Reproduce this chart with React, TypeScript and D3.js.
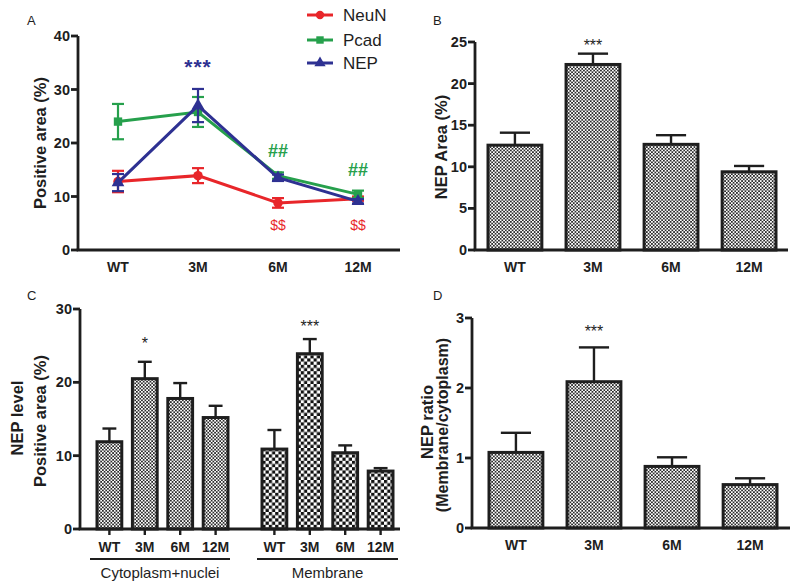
import React from 'react';
import * as d3 from 'd3';

const categories = ['WT', '3M', '6M', '12M'];

// Panel A: positive area (%) for each marker (mean, sem)
const neunMean = [12.8, 13.9, 8.8, 9.6];
const neunSem = [2.0, 1.4, 0.9, 0.4];
const pcadMean = [24.0, 25.8, 13.9, 10.4];
const pcadSem = [3.3, 2.8, 0.6, 0.7];
const nepMean = [12.6, 27.0, 13.5, 9.1];
const nepSem = [1.6, 3.1, 0.6, 0.4];
const aTicks = [0, 10, 20, 30, 40];
const nepSig = ['', '***', '', ''];
const pcadSig = ['', '', '##', '##'];
const neunSig = ['', '', '$$', '$$'];

// Panel B: NEP area (%)
const nepArea = [12.6, 22.3, 12.7, 9.4];
const nepAreaSem = [1.5, 1.3, 1.1, 0.7];
const bTicks = [0, 5, 10, 15, 20, 25];
const bSig = ['', '***', '', ''];

// Panel C: NEP level by compartment
const cytoLevel = [11.9, 20.5, 17.8, 15.2];
const cytoSem = [1.8, 2.3, 2.1, 1.6];
const membLevel = [10.9, 23.9, 10.4, 7.9];
const membSem = [2.6, 2.0, 1.0, 0.4];
const cTicks = [0, 10, 20, 30];
const cytoSig = ['', '*', '', ''];
const membSig = ['', '***', '', ''];
const groupNames = ['Cytoplasm+nuclei', 'Membrane'];

// Panel D: membrane / cytoplasm ratio
const nepRatio = [1.08, 2.09, 0.88, 0.62];
const nepRatioSem = [0.28, 0.49, 0.13, 0.09];
const dTicks = [0, 1, 2, 3];
const dSig = ['', '***', '', ''];

const FONT = '"Liberation Sans", Arial, Helvetica, sans-serif';
const INK = '#1e1e1e';
const RED = '#e8262a';
const GREEN = '#26a04c';
const BLUE = '#2e3192';

type Lin = d3.ScaleLinear<number, number>;

// y axis with outward ticks plus the x baseline
const Axes = ({ x0, xEnd, y, ticks }: { x0: number; xEnd: number; y: Lin; ticks: number[] }) => {
  const top = y(ticks[ticks.length - 1]);
  const bottom = y(0);
  return (
    <g stroke={INK} strokeWidth={2.8} fill="none">
      <line x1={x0} x2={x0} y1={top} y2={bottom} />
      <line x1={x0 - 1.4} x2={xEnd} y1={bottom} y2={bottom} />
      {ticks.map(t => (
        <g key={t}>
          <line x1={x0 - 7} x2={x0} y1={y(t)} y2={y(t)} />
          <text x={x0 - 8} y={y(t) + 5} textAnchor="end" stroke="none" fill={INK}
            fontSize={14.5} fontWeight="bold" fontFamily={FONT}>{t}</text>
        </g>
      ))}
    </g>
  );
};

const Bars = ({ x, y, means, sems, fill, sigs, sigLift }: {
  x: d3.ScaleBand<string>; y: Lin; means: number[]; sems: number[]; fill: string;
  sigs: string[]; sigLift: number[];
}) => {
  const bw = x.bandwidth();
  const cap = bw * 0.56;
  return (
    <g>
      {categories.map((c, i) => {
        const cx = x(c)! + bw / 2;
        const top = y(means[i]);
        const err = y(means[i] + sems[i]);
        return (
          <g key={c}>
            <line x1={cx} x2={cx} y1={top} y2={err} stroke={INK} strokeWidth={2.4} />
            <line x1={cx - cap / 2} x2={cx + cap / 2} y1={err} y2={err} stroke={INK} strokeWidth={2.4} />
            <rect x={x(c)!} y={top} width={bw} height={y(0) - top} fill={fill} stroke={INK} strokeWidth={3} />
            {sigs[i] && (
              <text x={cx} y={err - sigLift[i]} textAnchor="middle" fontSize={16} fill={INK}
                fontFamily={FONT}>{sigs[i]}</text>
            )}
          </g>
        );
      })}
    </g>
  );
};

const XLabels = ({ x, yPos }: { x: d3.ScaleBand<string>; yPos: number }) => (
  <g>
    {categories.map(c => (
      <text key={c} x={x(c)! + x.bandwidth() / 2} y={yPos} textAnchor="middle" fontSize={14}
        fontWeight="bold" fill={INK} fontFamily={FONT}>{c}</text>
    ))}
  </g>
);

const PanelLetter = ({ x, y, t }: { x: number; y: number; t: string }) => (
  <text x={x} y={y} fontSize={13} fill={INK} fontFamily={FONT}>{t}</text>
);

const YTitle = ({ x, y, text, size = 16.5 }: { x: number; y: number; text: string; size?: number }) => (
  <text transform={`translate(${x},${y}) rotate(-90)`} textAnchor="middle" fontSize={size}
    fontWeight="bold" fill={INK} fontFamily={FONT}>{text}</text>
);

const PanelA = () => {
  const x = d3.scaleBand<string>().domain(categories).range([78, 398]);
  const y = d3.scaleLinear().domain([0, 40]).range([250, 36]);
  const cx = (c: string) => x(c)! + x.bandwidth() / 2;
  const series = [
    { name: 'NeuN', mean: neunMean, sem: neunSem, color: RED, shape: d3.symbolCircle },
    { name: 'Pcad', mean: pcadMean, sem: pcadSem, color: GREEN, shape: d3.symbolSquare },
    { name: 'NEP', mean: nepMean, sem: nepSem, color: BLUE, shape: d3.symbolTriangle },
  ];
  const line = d3.line<number>().x((_, i) => cx(categories[i])).y(d => y(d));
  const sym = (s: d3.SymbolType, size: number) => d3.symbol(s, size)()!;
  return (
    <g>
      <PanelLetter x={27} y={25} t="A" />
      <YTitle x={46} y={143} text="Positive area (%)" />
      <Axes x0={78} xEnd={400} y={y} ticks={aTicks} />
      <XLabels x={x} yPos={272} />
      {series.map(s => (
        <g key={s.name}>
          {categories.map((c, i) => (
            <g key={c} stroke={s.color} strokeWidth={2.2}>
              <line x1={cx(c)} x2={cx(c)} y1={y(s.mean[i] - s.sem[i])} y2={y(s.mean[i] + s.sem[i])} />
              <line x1={cx(c) - 6} x2={cx(c) + 6} y1={y(s.mean[i] + s.sem[i])} y2={y(s.mean[i] + s.sem[i])} />
              <line x1={cx(c) - 6} x2={cx(c) + 6} y1={y(s.mean[i] - s.sem[i])} y2={y(s.mean[i] - s.sem[i])} />
            </g>
          ))}
          <path d={line(s.mean)!} fill="none" stroke={s.color} strokeWidth={3} />
          {categories.map((c, i) => (
            <path key={c} transform={`translate(${cx(c)},${y(s.mean[i])})`} d={sym(s.shape, 70)} fill={s.color} />
          ))}
        </g>
      ))}
      {categories.map((c, i) => (
        <g key={c} fontFamily={FONT} textAnchor="middle">
          {nepSig[i] && <text x={cx(c)} y={y(nepMean[i] + nepSem[i]) - 15} fontSize={21} fontWeight="bold"
            letterSpacing={1} fill={BLUE}>{nepSig[i]}</text>}
          {pcadSig[i] && <text x={cx(c)} y={y(pcadMean[i] + pcadSem[i]) - 15} fontSize={18} fontWeight="bold"
            fill={GREEN}>{pcadSig[i]}</text>}
          {neunSig[i] && <text x={cx(c)} y={y(0) - 20} fontSize={14} fill={RED}>{neunSig[i]}</text>}
        </g>
      ))}
      {series.map((s, k) => {
        const ly = [15, 40, 63][k];
        return (
          <g key={s.name}>
            <line x1={307} x2={333} y1={ly} y2={ly} stroke={s.color} strokeWidth={3} />
            <path transform={`translate(320,${ly})`} d={sym(s.shape, 55)} fill={s.color} />
            <text x={343} y={ly + 6} fontSize={17} fill={INK} fontFamily={FONT}>{s.name}</text>
          </g>
        );
      })}
    </g>
  );
};

const PanelB = () => {
  const x = d3.scaleBand<string>().domain(categories).range([488, 776]).paddingInner(0.31);
  const y = d3.scaleLinear().domain([0, 25]).range([250, 42]);
  return (
    <g>
      <PanelLetter x={433} y={25} t="B" />
      <YTitle x={447} y={147} text="NEP Area (%)" />
      <Bars x={x} y={y} means={nepArea} sems={nepAreaSem} fill="url(#fine)" sigs={bSig} sigLift={[0, 3, 0, 0]} />
      <Axes x0={475} xEnd={788} y={y} ticks={bTicks} />
      <XLabels x={x} yPos={272} />
    </g>
  );
};

const PanelC = () => {
  const x1 = d3.scaleBand<string>().domain(categories).range([97, 228]).paddingInner(0.3);
  const x2 = d3.scaleBand<string>().domain(categories).range([262, 393]).paddingInner(0.3);
  const y = d3.scaleLinear().domain([0, 30]).range([529, 309]);
  const groups = [
    { x: x1, line: [90, 230] },
    { x: x2, line: [257, 398] },
  ];
  return (
    <g>
      <PanelLetter x={27} y={300} t="C" />
      <YTitle x={23} y={418} text="NEP level" />
      <YTitle x={46} y={421} text="Positive area (%)" />
      <Bars x={x1} y={y} means={cytoLevel} sems={cytoSem} fill="url(#fine)" sigs={cytoSig} sigLift={[0, 13, 0, 0]} />
      <Bars x={x2} y={y} means={membLevel} sems={membSem} fill="url(#coarse)" sigs={membSig} sigLift={[0, 7, 0, 0]} />
      <Axes x0={80} xEnd={400} y={y} ticks={cTicks} />
      {groups.map((g, k) => (
        <g key={k}>
          {categories.map(c => (
            <line key={c} x1={g.x(c)! + g.x.bandwidth() / 2} x2={g.x(c)! + g.x.bandwidth() / 2}
              y1={y(0)} y2={y(0) + 6} stroke={INK} strokeWidth={2.4} />
          ))}
          <XLabels x={g.x} yPos={552} />
          <line x1={g.line[0]} x2={g.line[1]} y1={559} y2={559} stroke={INK} strokeWidth={2} />
          <text x={(g.line[0] + g.line[1]) / 2} y={578} textAnchor="middle" fontSize={15} fill={INK}
            fontFamily={FONT}>{groupNames[k]}</text>
        </g>
      ))}
    </g>
  );
};

const PanelD = () => {
  const x = d3.scaleBand<string>().domain(categories).range([489, 777]).paddingInner(0.31);
  const y = d3.scaleLinear().domain([0, 3]).range([528, 318]);
  return (
    <g>
      <PanelLetter x={433} y={300} t="D" />
      <YTitle x={433} y={422} text="NEP ratio" />
      <YTitle x={448} y={425} text="(Membrane/cytoplasm)" size={16} />
      <Bars x={x} y={y} means={nepRatio} sems={nepRatioSem} fill="url(#fine)" sigs={dSig} sigLift={[0, 10, 0, 0]} />
      <Axes x0={472} xEnd={790} y={y} ticks={dTicks} />
      <XLabels x={x} yPos={550} />
    </g>
  );
};

export default function App() {
  return (
    <svg width={800} height={587} style={{ position: 'absolute', left: 0, top: 0, background: '#fff' }}>
      <defs>
        <pattern id="fine" patternUnits="userSpaceOnUse" width={3.4} height={3.4}>
          <rect width={3.4} height={3.4} fill="#fff" />
          <rect width={1.7} height={1.7} fill="#2a2a2a" />
          <rect x={1.7} y={1.7} width={1.7} height={1.7} fill="#2a2a2a" />
        </pattern>
        <pattern id="coarse" patternUnits="userSpaceOnUse" width={6.4} height={6.4}>
          <rect width={6.4} height={6.4} fill="#fff" />
          <rect width={3.2} height={3.2} fill="#111" />
          <rect x={3.2} y={3.2} width={3.2} height={3.2} fill="#111" />
        </pattern>
      </defs>
      <rect width={800} height={587} fill="#fff" />
      <PanelA />
      <PanelB />
      <PanelC />
      <PanelD />
    </svg>
  );
}
